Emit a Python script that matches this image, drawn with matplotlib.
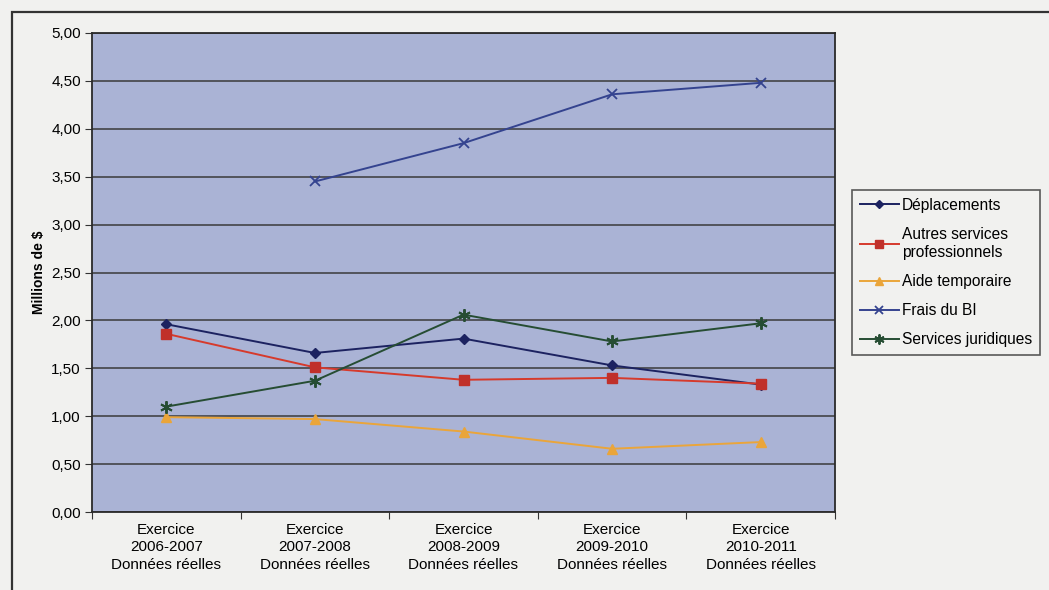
import matplotlib
matplotlib.use("Agg")
import matplotlib.pyplot as plt
import numpy as np

plt.rcParams['font.family'] = ['Liberation Sans', 'DejaVu Sans']

categories = [
    "Exercice\n2006-2007\nDonnées réelles",
    "Exercice\n2007-2008\nDonnées réelles",
    "Exercice\n2008-2009\nDonnées réelles",
    "Exercice\n2009-2010\nDonnées réelles",
    "Exercice\n2010-2011\nDonnées réelles",
]
deplacements = [1.96, 1.66, 1.81, 1.53, 1.33]
autres_services = [1.86, 1.51, 1.38, 1.40, 1.34]
aide_temporaire = [0.99, 0.97, 0.84, 0.66, 0.73]
frais_bi = [np.nan, 3.45, 3.85, 4.36, 4.48]
services_juridiques = [1.10, 1.37, 2.06, 1.78, 1.97]
y_ticks = [0.0, 0.5, 1.0, 1.5, 2.0, 2.5, 3.0, 3.5, 4.0, 4.5, 5.0]

fig = plt.figure(figsize=(10.49, 5.90), dpi=100)
fig.patch.set_facecolor('#f1f1ef')

# outer chart frame
frame = plt.Rectangle((12 / 1049, -0.05), 1.1, 1 - 12 / 590 + 0.05,
                      transform=fig.transFigure, fill=False,
                      edgecolor='#333333', linewidth=1.6)
fig.patches.append(frame)

ax = fig.add_axes([92 / 1049, 1 - 512 / 590, (835 - 92) / 1049, (512 - 33) / 590])
ax.set_facecolor('#aab3d5')

x = np.arange(len(categories)) + 0.5

ax.plot(x, deplacements, color='#1c2260', marker='D', markersize=5.5,
        linewidth=1.4, label='Déplacements')
ax.plot(x, autres_services, color='#d63a2c', marker='s', markersize=6.5,
        markerfacecolor='#c0302a', markeredgecolor='#c0302a',
        linewidth=1.4, label='Autres services\nprofessionnels')
ax.plot(x, aide_temporaire, color='#eaa53a', marker='^', markersize=7,
        linewidth=1.4, label='Aide temporaire')
ax.plot(x, frais_bi, color='#34438f', marker='x', markersize=7,
        markeredgewidth=1.3, linewidth=1.4, label='Frais du BI')
ax.plot(x, services_juridiques, color='#264d33', marker=(6, 2, 0),
        markersize=9, markeredgewidth=1.4, linewidth=1.4,
        label='Services juridiques')

ax.set_xlim(0, len(categories))
ax.set_ylim(0, 5)
ax.set_yticks(y_ticks)
ax.set_yticklabels([f"{v:.2f}".replace('.', ',') for v in y_ticks], fontsize=11)
ax.set_xticks(np.arange(len(categories) + 1))
ax.set_xticklabels([])
ax.set_xticks(x, minor=True)
ax.set_xticklabels(categories, minor=True, fontsize=11, linespacing=1.3)
ax.tick_params(axis='x', which='minor', length=0, pad=8)
ax.tick_params(axis='x', which='major', length=5, direction='out', color='#333333')
ax.tick_params(axis='y', length=5, direction='out', color='#333333', pad=3)

ax.yaxis.grid(True, color='#3a3a3a', linewidth=1.1)
ax.set_axisbelow(True)
for s in ax.spines.values():
    s.set_color('#2a2a2a')
    s.set_linewidth(1.3)

ax.set_ylabel('Millions de $', fontsize=10, fontweight='bold', labelpad=4)

leg = ax.legend(loc='upper left', bbox_to_anchor=(852 / 1049, 1 - 190 / 590),
                bbox_transform=fig.transFigure, fontsize=11.2, frameon=True,
                fancybox=False, edgecolor='#333333', facecolor='#f1f1ef',
                handlelength=2.5, handletextpad=0.2, borderpad=0.5,
                labelspacing=0.9, borderaxespad=0, markerscale=0.8)
leg.get_frame().set_linewidth(1.2)
for t in leg.get_texts():
    t.set_linespacing(1.3)

fig.savefig('out.png', dpi=100, facecolor=fig.get_facecolor())
